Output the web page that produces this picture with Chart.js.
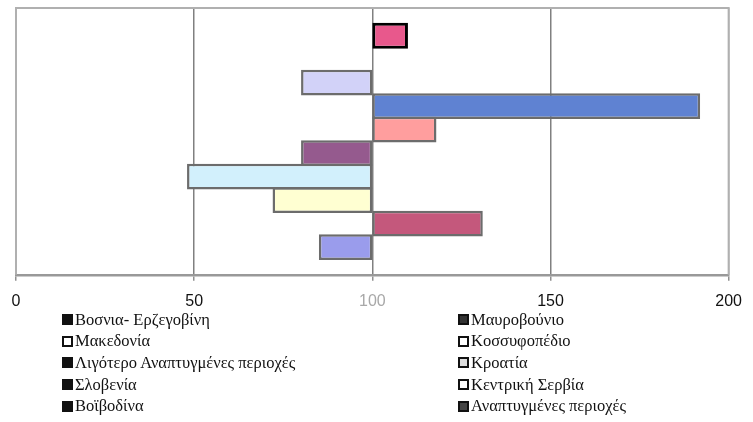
<!DOCTYPE html>
<html>
<head>
<meta charset="utf-8">
<script src="https://cdn.jsdelivr.net/npm/chart.js@4/dist/chart.umd.min.js"></script>
<style>
    body { margin: 0; background: #fff; }
    #wrap { position: relative; width: 753px; height: 422px; }
    #chartBox { position: absolute; left: 0; top: 0; width: 753px; height: 331px; }
    #legend {
        position: absolute; left: 62px; top: 309px; width: 680px;
        display: grid; grid-template-columns: 396px 280px; grid-auto-rows: 21.6px;
        font-family: 'Liberation Serif', 'DejaVu Serif', serif; font-size: 16.5px; color: #111;
    }
    .item { display: flex; align-items: center; white-space: nowrap; }
    .box { width: 11px; height: 11px; margin-right: 2px; box-sizing: border-box; border: 2px solid #111; }
</style>
</head>
<body>
<div id="wrap">
    <div id="chartBox"><canvas id="chartRegiones"></canvas></div>
    <div id="legend"></div>
</div>
<script>
// series in legend order (first series sits at the bottom of the cluster)
const seriesNames = [
    'Βοσνια- Ερζεγοβίνη', 'Μαυροβούνιο',
    'Μακεδονία', 'Κοσσυφοπέδιο',
    'Λιγότερο Αναπτυγμένες περιοχές', 'Κροατία',
    'Σλοβενία', 'Κεντρική Σερβία',
    'Βοϊβοδίνα', 'Αναπτυγμένες περιοχές'
];
const seriesValues = [85, 131, 72, 48, 80, 118, 192, 80, 100, 110];
const baseValue = 100;
const xTicks = [0, 50, 100, 150, 200];

const barColors = ['#9a9cec', '#c4587c', '#ffffd2', '#d2f0fc', '#955a8e',
                   '#ff9e9e', '#5f82d2', '#d2d2f8', '#000080', '#e8588c'];
// the legend is printed in greys
const legendFills = ['#111', '#333', '#fff', '#fff', '#111', '#ddd', '#111', '#fff', '#111', '#444'];

const datasets = seriesNames.map(function (name, i) {
    return {
        label: name,
        data: [[baseValue, seriesValues[i]]],
        backgroundColor: barColors[i],
        borderColor: i === 9 ? '#000' : '#6c6c6c',
        borderWidth: i === 9 ? 3 : 2.5,
        borderSkipped: false
    };
}).reverse();

const plotBorder = {
    id: 'plotBorder',
    beforeDatasetsDraw(chart) {
        const a = chart.chartArea;
        const c = chart.ctx;
        c.save();
        c.strokeStyle = '#b0b0b0';
        c.lineWidth = 2;
        c.beginPath();
        c.moveTo(a.left, a.bottom);
        c.lineTo(a.left, a.top);
        c.lineTo(a.right, a.top);
        c.lineTo(a.right, a.bottom);
        c.stroke();
        c.restore();
    }
};

new Chart(document.getElementById('chartRegiones'), {
    type: 'bar',
    data: { labels: [''], datasets: datasets },
    plugins: [plotBorder],
    options: {
        indexAxis: 'y',
        responsive: true,
        maintainAspectRatio: false,
        animation: false,
        datasets: { bar: { categoryPercentage: 0.88, barPercentage: 1.1 } },
        layout: { padding: { left: 16, right: 19, top: 8, bottom: 9 } },
        plugins: { legend: { display: false }, tooltip: { enabled: false } },
        scales: {
            x: {
                min: 0,
                max: 200,
                afterBuildTicks: function (axis) {
                    axis.ticks = xTicks.map(function (v) { return { value: v }; });
                },
                grid: {
                    color: function (ctx) {
                        return (ctx.tick && (ctx.tick.value === 0 || ctx.tick.value === 200)) ? '#b0b0b0' : '#808080';
                    },
                    lineWidth: 1.5,
                    tickLength: 6,
                    tickColor: '#909090'
                },
                border: { color: '#999', width: 2.5 },
                ticks: {
                    padding: 11,
                    maxRotation: 0,
                    color: function (ctx) { return ctx.tick && ctx.tick.value === 100 ? '#a8a8a8' : '#111'; },
                    font: { family: 'Liberation Sans', size: 16 }
                }
            },
            y: { display: false }
        }
    }
});

const legend = document.getElementById('legend');
seriesNames.forEach(function (name, i) {
    const item = document.createElement('div');
    item.className = 'item';
    const box = document.createElement('span');
    box.className = 'box';
    box.style.background = legendFills[i];
    item.appendChild(box);
    item.appendChild(document.createTextNode(name));
    legend.appendChild(item);
});
</script>
</body>
</html>
